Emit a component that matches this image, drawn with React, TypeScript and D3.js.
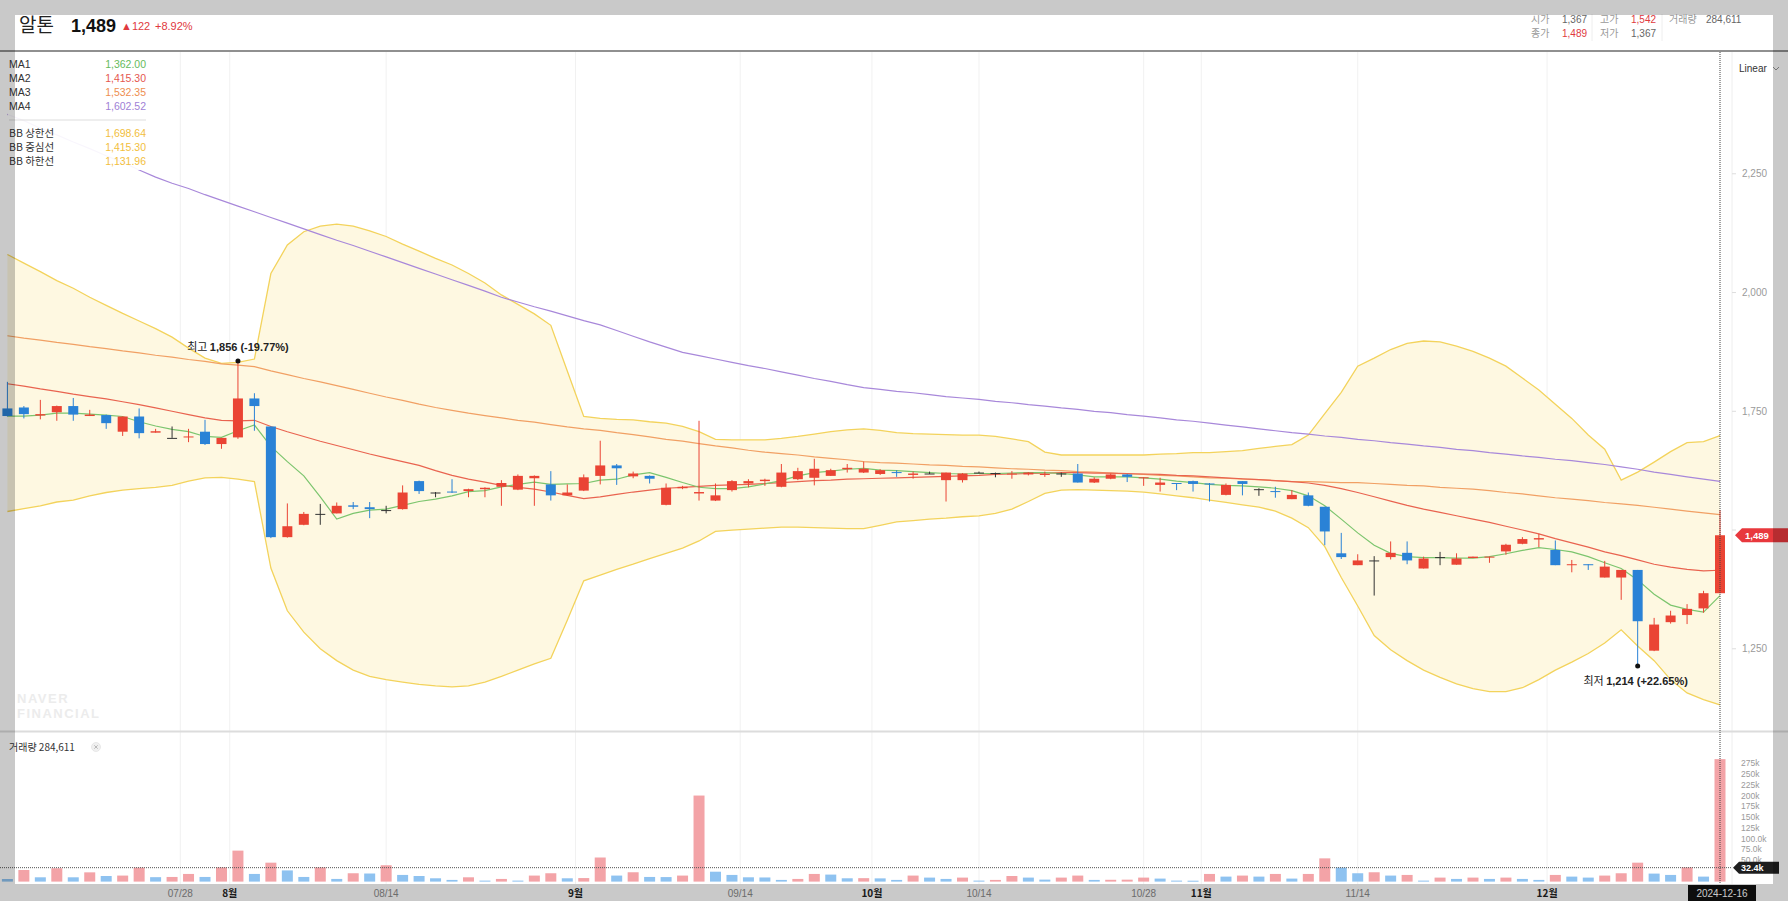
import React from 'react';
import * as d3 from 'd3';

// ---------- DATA ----------
const dates = [
  '07-12','07-15','07-16','07-17','07-18','07-19','07-22','07-23','07-24','07-25','07-26','07-29','07-30','07-31',
  '08-01','08-02','08-05','08-06','08-07','08-08','08-09','08-12','08-13','08-14','08-16','08-19','08-20','08-21','08-22','08-23','08-26','08-27','08-28','08-29','08-30',
  '09-02','09-03','09-04','09-05','09-06','09-09','09-10','09-11','09-12','09-13','09-19','09-20','09-23','09-24','09-25','09-26','09-27','09-30',
  '10-02','10-04','10-07','10-08','10-10','10-11','10-14','10-15','10-16','10-17','10-18','10-21','10-22','10-23','10-24','10-25','10-28','10-29','10-30','10-31',
  '11-01','11-04','11-05','11-06','11-07','11-08','11-11','11-12','11-13','11-14','11-15','11-18','11-19','11-20','11-21','11-22','11-25','11-26','11-27','11-28','11-29',
  '12-02','12-03','12-04','12-05','12-06','12-09','12-10','12-11','12-12','12-13','12-16',
];

const openP = [
  1756,1758,1741,1748,1761,1740,1742,1707,1739,1705,1694,1695,1707,1681,
  1695,1777,1718,1485,1511,1534,1535,1552,1548,1542,1544,1603,1579,1581,1582,1586,1591,1585,1609,1596,1573,
  1583,1614,1636,1613,1614,1553,1588,1577,1562,1584,1598,1603,1591,1607,1610,1614,1628,1621,
  1618,1622,1616,1619,1605,1605,1621,1620,1617,1617,1616,1619,1619,1600,1608,1617,1609,1595,1599,1603,
  1598,1574,1603,1586,1582,1565,1573,1549,1451,1426,1436,1443,1452,1419,1443,1427,1441,1443,1455,1471,1480,
  1458,1426,1428,1400,1400,1416,1246,1306,1321,1335,1367,
];
const highP = [
  1812,1761,1774,1762,1778,1753,1743,1739,1756,1713,1718,1713,1732,1694,
  1856,1788,1718,1556,1538,1555,1558,1559,1559,1551,1594,1604,1580,1607,1587,1590,1605,1617,1615,1624,1596,
  1617,1688,1639,1623,1615,1598,1593,1730,1598,1605,1607,1608,1639,1631,1650,1629,1639,1644,
  1628,1626,1623,1623,1621,1620,1623,1621,1624,1622,1623,1621,1639,1611,1619,1618,1611,1610,1599,1604,
  1599,1598,1603,1588,1591,1584,1579,1549,1494,1449,1445,1476,1476,1444,1454,1451,1444,1444,1471,1485,1492,
  1478,1437,1428,1435,1416,1416,1315,1330,1344,1372,1542,
];
const lowP = [
  1739,1735,1733,1730,1730,1740,1713,1698,1693,1705,1694,1685,1679,1671,
  1692,1709,1483,1484,1510,1511,1535,1544,1525,1535,1543,1576,1569,1578,1569,1569,1551,1584,1551,1562,1572,
  1582,1596,1595,1609,1598,1552,1586,1562,1561,1581,1590,1593,1590,1605,1594,1614,1621,1620,
  1616,1612,1608,1618,1560,1600,1620,1611,1608,1615,1612,1612,1600,1599,1607,1601,1593,1581,1584,1581,
  1560,1573,1573,1572,1568,1565,1550,1468,1439,1426,1362,1438,1428,1419,1426,1427,1441,1431,1448,1470,1464,
  1426,1411,1416,1400,1353,1214,1245,1303,1302,1326,1367,
];
const closeP = [
  1740,1744,1744,1761,1743,1743,1725,1739,1704,1708,1694,1697,1681,1694,
  1777,1761,1485,1508,1534,1534,1551,1549,1544,1542,1579,1582,1579,1579,1586,1589,1599,1614,1614,1573,1579,
  1611,1636,1630,1619,1608,1589,1591,1580,1573,1603,1603,1606,1621,1624,1629,1626,1631,1629,
  1626,1621,1619,1619,1621,1619,1621,1620,1619,1621,1618,1619,1600,1608,1617,1612,1611,1600,1598,1597,
  1596,1595,1597,1586,1581,1574,1551,1497,1443,1436,1436,1452,1436,1440,1443,1440,1444,1444,1469,1481,1483,
  1426,1428,1426,1423,1416,1308,1301,1320,1334,1367,1489,
];
const volume = [
  6000,27000,10000,31000,10000,21500,13000,14000,32500,10300,10800,17800,10800,33000,
  72000,17800,44000,26000,10800,33000,6200,19400,18800,38000,15500,13000,7700,3900,10000,2300,6200,2300,14000,19400,7700,
  8200,56000,14000,21700,10800,10500,14000,200000,23000,15500,10000,9600,3900,6200,17800,16300,7700,8000,
  7500,3900,14000,9300,6200,9300,2300,3900,13000,9300,4600,9300,14000,3900,4200,4500,9300,7000,2300,2100,
  17800,11600,14000,11600,17800,7000,17800,54000,32500,19400,21700,14000,15500,2300,9300,6200,9300,6200,9300,6200,3900,
  15500,11600,9300,14000,19400,44000,18600,15500,33000,11600,284611,
];
const ma1 = [
  1740,1740,1742,1746,1746,1744,1742,1739,1728,1719,1712,1707,1697,1695,
  1709,1721,1676,1644,1614,1570,1523,1535,1542,1544,1552,1560,1565,1572,1581,1583,1591,1596,1601,1596,1597,
  1598,1605,1607,1616,1621,1611,1600,1590,1587,1587,1591,1597,1604,1614,1621,1624,1628,1630,
  1626,1625,1623,1621,1619,1618,1619,1619,1620,1621,1621,1619,1616,1612,1612,1612,1610,1607,1603,1600,
  1596,1594,1593,1591,1588,1583,1572,1551,1523,1494,1468,1451,1444,1442,1442,1441,1441,1444,1450,1457,1463,
  1459,1454,1444,1431,1419,1395,1365,1342,1333,1327,1362,
];
const ma2 = [
  1808,1803,1797,1792,1786,1781,1776,1770,1764,1757,1750,1743,1736,1731,
  1730,1731,1718,1707,1697,1687,1678,1669,1660,1652,1644,1636,1625,1615,1607,1601,1594,1590,1586,1580,1573,
  1566,1570,1575,1580,1584,1588,1590,1592,1594,1595,1596,1598,1600,1602,1604,1605,1607,1608,
  1609,1610,1611,1612,1613,1614,1615,1617,1618,1619,1620,1621,1621,1620,1620,1619,1618,1617,1615,1614,
  1612,1610,1608,1606,1604,1602,1599,1594,1587,1579,1570,1561,1552,1544,1537,1530,1523,1516,1508,1500,1492,
  1482,1473,1464,1454,1446,1437,1428,1422,1417,1414,1415.3,
];
const ma3 = [
  1909,1904,1900,1895,1891,1886,1882,1877,1873,1868,1864,1859,1855,1850,
  1847,1844,1835,1827,1819,1812,1804,1796,1788,1780,1773,1765,1758,1752,1746,1741,1736,1731,1727,1722,1717,
  1713,1710,1705,1701,1696,1691,1687,1682,1677,1673,1668,1664,1661,1658,1654,1651,1648,1644,
  1642,1641,1639,1637,1636,1634,1633,1631,1629,1628,1626,1625,1623,1622,1620,1618,1617,1615,1614,1612,
  1610,1609,1607,1606,1604,1602,1602,1601,1600,1600,1598,1596,1594,1593,1590,1588,1586,1583,1579,1576,1572,
  1568,1565,1562,1558,1555,1552,1548,1544,1540,1536,1532.35,
];
const ma4 = [
  2375,2362,2346,2332,2317,2303,2288,2274,2258,2243,2230,2219,2206,2194,
  2182,2170,2158,2146,2134,2122,2110,2099,2087,2075,2063,2051,2039,2027,2015,2003,1990,1980,1970,1961,1951,
  1941,1932,1920,1908,1896,1885,1874,1867,1860,1853,1846,1840,1833,1826,1819,1813,1806,1800,
  1796,1792,1789,1785,1781,1778,1775,1771,1768,1764,1761,1757,1754,1750,1747,1743,1740,1736,1732,1729,
  1725,1721,1717,1713,1709,1705,1702,1698,1695,1691,1688,1684,1681,1677,1674,1670,1667,1663,1660,1656,1653,
  1649,1646,1642,1638,1633,1628,1622,1617,1612,1607,1602.52,
];
const bbUpper = [
  2080,2062,2044,2025,2009,1990,1973,1956,1940,1924,1906,1883,1862,1851,
  1853,1860,2040,2100,2128,2140,2144,2140,2130,2118,2102,2087,2072,2058,2040,2020,1995,1975,1955,1931,1835,
  1739,1735,1733,1732,1728,1725,1718,1707,1691,1690,1690,1690,1693,1697,1702,1707,1711,1713,
  1710,1705,1703,1702,1701,1700,1700,1697,1692,1686,1664,1658,1658,1658,1658,1658,1658,1660,1661,1663,
  1663,1665,1667,1672,1676,1680,1700,1745,1790,1845,1862,1880,1893,1898,1896,1887,1876,1862,1845,1820,1795,
  1765,1735,1700,1670,1605,1622,1643,1665,1684,1686,1698.64,
];
const bbLower = [
  1539,1545,1551,1559,1563,1572,1579,1584,1587,1590,1594,1603,1610,1611,
  1607,1602,1420,1330,1285,1250,1225,1205,1192,1185,1180,1175,1172,1170,1172,1180,1192,1205,1218,1230,1310,
  1393,1405,1417,1428,1440,1451,1462,1477,1497,1500,1502,1504,1506,1506,1505,1504,1503,1503,
  1510,1517,1520,1523,1525,1528,1530,1535,1544,1560,1577,1584,1585,1584,1583,1582,1580,1576,1572,1568,
  1563,1558,1553,1548,1540,1525,1505,1465,1400,1340,1278,1248,1225,1205,1190,1176,1166,1160,1160,1168,1185,
  1205,1222,1240,1262,1290,1256,1225,1185,1157,1143,1131.96,
];

// x-axis ticks (positions in candle index units)
const xTickLabels = ['07/28', '8월', '08/14', '9월', '09/14', '10월', '10/14', '10/28', '11월', '11/14', '12월'];
const xTickPos = [10.5, 13.5, 23, 34.5, 44.5, 52.5, 59, 69, 72.5, 82, 93.5];
const xTickMonth = [false, true, false, true, false, true, false, false, true, false, true];

// 1,500 sits behind the current-price tag in the reference, so only its tick mark is drawn
const priceTicks = [1250, 1500, 1750, 2000, 2250];
const priceTickShown = [true, false, true, true, true];
const volTicks = [50000, 75000, 100000, 125000, 150000, 175000, 200000, 225000, 250000, 275000];
const volTickLabels = ['50.0k', '75.0k', '100.0k', '125k', '150k', '175k', '200k', '225k', '250k', '275k'];

const legendMA = [
  { name: 'MA1', value: '1,362.00', color: '#66bb5c', line: '#7cc56e' },
  { name: 'MA2', value: '1,415.30', color: '#e5574f', line: '#e9634f' },
  { name: 'MA3', value: '1,532.35', color: '#ee8e4f', line: '#f1a064' },
  { name: 'MA4', value: '1,602.52', color: '#a07fd6', line: '#a888da' },
];
const legendBB = [
  { name: 'BB 상한선', value: '1,698.64' },
  { name: 'BB 중심선', value: '1,415.30' },
  { name: 'BB 하한선', value: '1,131.96' },
];

// ---------- styles ----------
const FONT = "'Liberation Sans', Arial, 'Noto Sans CJK KR', sans-serif";
const KFONT = "'Noto Sans CJK KR', sans-serif";
const UP = '#ea4434';
const DOWN = '#2a82d6';
const FLAT = '#333333';
const BB_LINE = '#f3d35c';
const BB_FILL = '#fef8e1';
const VOL_UP = '#f3a3a7';
const VOL_DOWN = '#8ec2f0';

const W = 1788;
const H = 901;
const PLOT_R = 1732;
const MAIN_T = 52;
const MAIN_B = 730;

export default function App() {
  const n = closeP.length;
  const x = d3.scaleLinear().domain([0, n - 1]).range([7.4, 1720]);
  const y = d3.scaleLinear().domain([1079, 2506.4]).range([MAIN_B, MAIN_T]);
  const yv = d3.scaleLinear().domain([0, 350000]).range([881.6, 731]);

  const line = (arr: number[]) =>
    d3.line<number>().x((_, i) => x(i)).y((d) => y(d))(arr) || '';
  const bbArea =
    d3
      .area<number>()
      .x((_, i) => x(i))
      .y0((_, i) => y(bbLower[i]))
      .y1((d) => y(d))(bbUpper) || '';

  const bodyW = 10;
  const volW = 11;

  const hiIdx = d3.maxIndex(highP);
  const loIdx = d3.minIndex(lowP);
  const last = n - 1;

  return (
    <svg
      width={W}
      height={H}
      style={{ position: 'absolute', left: 0, top: 0, fontFamily: FONT }}
    >
      <defs>
        <clipPath id="mainClip">
          <rect x={0} y={MAIN_T} width={PLOT_R} height={MAIN_B - MAIN_T} />
        </clipPath>
        <clipPath id="volClip">
          <rect x={0} y={733} width={PLOT_R} height={151} />
        </clipPath>
      </defs>
      <rect x={0} y={0} width={W} height={H} fill="#ffffff" />

      {/* header */}
      <text x={19} y={32} fontSize={19} fill="#222" fontFamily={KFONT}>알톤</text>
      <text x={71} y={32} fontSize={18} fontWeight="bold" fill="#111">1,489</text>
      <text x={121} y={30} fontSize={11} fill="#e0393e">▲122</text>
      <text x={155} y={30} fontSize={11} fill="#e0393e">+8.92%</text>

      <g fontSize={10}>
        <text x={1531} y={23} fill="#999" fontFamily={KFONT}>시가</text>
        <text x={1562} y={23} fill="#666">1,367</text>
        <text x={1600} y={23} fill="#999" fontFamily={KFONT}>고가</text>
        <text x={1631} y={23} fill="#e0393e">1,542</text>
        <text x={1669} y={23} fill="#999" fontFamily={KFONT}>거래량</text>
        <text x={1706} y={23} fill="#666">284,611</text>
        <text x={1531} y={37} fill="#999" fontFamily={KFONT}>종가</text>
        <text x={1562} y={37} fill="#e0393e">1,489</text>
        <text x={1600} y={37} fill="#999" fontFamily={KFONT}>저가</text>
        <text x={1631} y={37} fill="#666">1,367</text>
        <line x1={1592} x2={1592} y1={14} y2={41} stroke="#eeeeee" />
        <line x1={1662} x2={1662} y1={14} y2={41} stroke="#eeeeee" />
      </g>
      <line x1={0} x2={W} y1={51} y2={51} stroke="#6b6b6b" strokeWidth={1.5} />

      {/* vertical grid */}
      {xTickPos.map((p, i) => (
        <line key={'g' + i} x1={x(p)} x2={x(p)} y1={MAIN_T} y2={884} stroke="#f1f1f1" strokeWidth={1} />
      ))}
      <line x1={PLOT_R} x2={PLOT_R} y1={MAIN_T} y2={884} stroke="#eeeeee" />

      {/* main chart */}
      <g clipPath="url(#mainClip)">
        <path d={bbArea} fill={BB_FILL} />
        <path d={line(bbUpper)} fill="none" stroke={BB_LINE} strokeWidth={1.3} />
        <path d={line(bbLower)} fill="none" stroke={BB_LINE} strokeWidth={1.3} />
        <path d={line(ma4)} fill="none" stroke={legendMA[3].line} strokeWidth={1.2} />
        <path d={line(ma3)} fill="none" stroke={legendMA[2].line} strokeWidth={1.2} />
        <path d={line(ma2)} fill="none" stroke={legendMA[1].line} strokeWidth={1.2} />
        <path d={line(ma1)} fill="none" stroke={legendMA[0].line} strokeWidth={1.2} />

        {closeP.map((c, i) => {
          const o = openP[i];
          const col = c > o ? UP : c < o ? DOWN : FLAT;
          const cx = x(i);
          const top = y(Math.max(o, c));
          const bot = y(Math.min(o, c));
          return (
            <g key={'c' + i}>
              <line x1={cx} x2={cx} y1={y(highP[i])} y2={y(lowP[i])} stroke={col} strokeWidth={1} />
              <rect x={cx - bodyW / 2} y={top} width={bodyW} height={Math.max(1, bot - top)} fill={col} />
            </g>
          );
        })}

        {/* annotations */}
        <circle cx={x(hiIdx)} cy={y(highP[hiIdx])} r={2.5} fill="#111" />
        <text x={x(hiIdx)} y={y(highP[hiIdx]) - 10} fontSize={11} fill="#222" textAnchor="middle">
          <tspan fontFamily={KFONT}>최고 </tspan>
          <tspan fontWeight="bold">1,856 (-19.77%)</tspan>
        </text>
        <circle cx={x(loIdx)} cy={y(lowP[loIdx])} r={2.5} fill="#111" />
        <text x={x(loIdx) - 2} y={y(lowP[loIdx]) + 19} fontSize={11} fill="#222" textAnchor="middle">
          <tspan fontFamily={KFONT}>최저 </tspan>
          <tspan fontWeight="bold">1,214 (+22.65%)</tspan>
        </text>
      </g>

      {/* watermark */}
      <text x={17} y={703} fontSize={13} fontWeight="bold" fill="#ececec" letterSpacing={1.5}>NAVER</text>
      <text x={17} y={718} fontSize={13} fontWeight="bold" fill="#ececec" letterSpacing={1.5}>FINANCIAL</text>

      {/* legend */}
      <rect x={8} y={54} width={142} height={116} fill="#ffffff" opacity={0.92} />
      <g fontSize={10.5}>
        {legendMA.map((m, i) => (
          <g key={m.name}>
            <text x={9} y={68 + i * 14} fill="#333">{m.name}</text>
            <text x={146} y={68 + i * 14} fill={m.color} textAnchor="end">{m.value}</text>
          </g>
        ))}
        <line x1={9} x2={146} y1={120} y2={120} stroke="#dddddd" />
        {legendBB.map((b, i) => (
          <g key={b.name}>
            <text x={9} y={137 + i * 14} fill="#333" fontFamily={KFONT}>{b.name}</text>
            <text x={146} y={137 + i * 14} fill="#f2be3c" textAnchor="end">{b.value}</text>
          </g>
        ))}
      </g>

      {/* right price axis */}
      <text x={1739} y={72} fontSize={10} fill="#333">Linear</text>
      <path d="M1773,67 l3,3 l3,-3" fill="none" stroke="#888" strokeWidth={0.9} />
      {priceTicks.map((p, i) => (
        <g key={'p' + p}>
          <line x1={PLOT_R} x2={PLOT_R + 4} y1={y(p)} y2={y(p)} stroke="#ddd" />
          {priceTickShown[i] && (
            <text x={1742} y={y(p) + 3.5} fontSize={10} fill="#9a9a9a">{d3.format(',')(p)}</text>
          )}
        </g>
      ))}
      <path
        d={`M1735,${y(closeP[last])} l7,-7 h46 v14 h-46 z`}
        fill="#e8383d"
      />
      <text x={1745} y={y(closeP[last]) + 3.5} fontSize={9.5} fontWeight="bold" fill="#fff">1,489</text>

      {/* panel separator */}
      <line x1={0} x2={W} y1={731.5} y2={731.5} stroke="#dcdcdc" strokeWidth={2} />

      {/* volume */}
      <text x={9} y={751} fontSize={10} fill="#333" fontFamily={KFONT}>거래량 284,611</text>
      <circle cx={96} cy={747} r={4.5} fill="#f0f0f0" stroke="#ddd" strokeWidth={0.6} />
      <path d="M94.3,745.3 l3.4,3.4 M97.7,745.3 l-3.4,3.4" stroke="#aaa" strokeWidth={0.8} />
      <g clipPath="url(#volClip)">
        {volume.map((v, i) => {
          const up = i === 0 ? false : v > volume[i - 1];
          const yt = yv(v);
          return (
            <rect
              key={'v' + i}
              x={x(i) - volW / 2}
              y={yt}
              width={volW}
              height={Math.max(1, yv(0) - yt)}
              fill={up ? VOL_UP : VOL_DOWN}
            />
          );
        })}
      </g>
      <line x1={0} x2={PLOT_R} y1={yv(32400)} y2={yv(32400)} stroke="#555" strokeWidth={1} strokeDasharray="1,1" />
      {volTicks.map((v, i) => (
        <text key={'vt' + i} x={1741} y={yv(v) + 3} fontSize={8.5} fill="#9a9a9a">{volTickLabels[i]}</text>
      ))}
      <path d={`M1733,${yv(32400)} l6,-6 h40 v12 h-40 z`} fill="#1e1e1e" />
      <text x={1741} y={yv(32400) + 3.5} fontSize={9} fontWeight="bold" fill="#fff">32.4k</text>

      {/* crosshair */}
      <line x1={x(last)} x2={x(last)} y1={MAIN_T} y2={884} stroke="#444" strokeWidth={1} strokeDasharray="1,1" />

      {/* x axis labels */}
      {xTickPos.map((p, i) => (
        <text
          key={'xt' + i}
          x={x(p)}
          y={897}
          fontSize={10}
          textAnchor="middle"
          fill={xTickMonth[i] ? '#222' : '#8a8a8a'}
          fontWeight={xTickMonth[i] ? 'bold' : 'normal'}
          fontFamily={xTickMonth[i] ? KFONT : FONT}
        >
          {xTickLabels[i]}
        </text>
      ))}
      <rect x={1688} y={885} width={68} height={16} fill="#111" />
      <text x={1722} y={897} fontSize={10} fill="#fff" textAnchor="middle">2024-{dates[last]}</text>

      {/* outer translucent frame */}
      <g fill="rgba(0,0,0,0.21)">
        <rect x={0} y={0} width={W} height={15} />
        <rect x={0} y={15} width={15} height={H - 15} />
        <rect x={1773} y={15} width={15} height={H - 15} />
        <rect x={15} y={884} width={1758} height={H - 884} />
      </g>
    </svg>
  );
}
